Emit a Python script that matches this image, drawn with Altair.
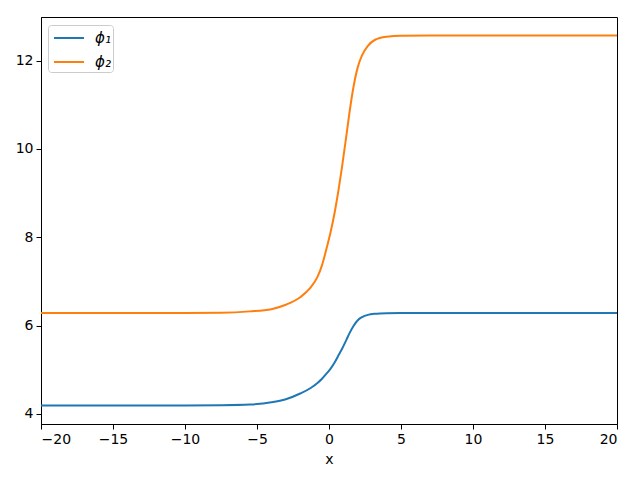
import altair as alt
import pandas as pd

x_vals = [-20, -10, -7.5, -5.5, -4, -3, -2, -1.3, -0.8, -0.5, -0.15, 0.1, 0.4, 0.7, 0.9,
          1.2, 1.4, 1.7, 2.0, 2.3, 2.7, 3.2, 4, 5, 7, 10, 20]
phi1 = [4.189, 4.19, 4.195, 4.21, 4.26, 4.33, 4.46, 4.58, 4.70, 4.79, 4.92, 5.02, 5.17, 5.35, 5.47,
        5.67, 5.81, 5.99, 6.12, 6.19, 6.24, 6.265, 6.278, 6.282, 6.283, 6.283, 6.283]
phi2 = [6.283, 6.285, 6.29, 6.32, 6.37, 6.47, 6.64, 6.85, 7.10, 7.35, 7.77, 8.10, 8.57, 9.15, 9.58,
        10.28, 10.77, 11.40, 11.85, 12.12, 12.33, 12.47, 12.54, 12.563, 12.566, 12.566, 12.566]
series_names = ["ϕ₁", "ϕ₂"]
colors = ["#1f77b4", "#ff7f0e"]

rows = []
for name, ys in zip(series_names, [phi1, phi2]):
    for xv, yv in zip(x_vals, ys):
        rows.append({"x": xv, "y": yv, "series": name})
df = pd.DataFrame(rows)

minus_expr = "replace(datum.label, '-', '−')"

chart = alt.Chart(df).mark_line(strokeWidth=2, interpolate="monotone").encode(
    x=alt.X("x:Q", title="x",
            scale=alt.Scale(domain=[-20, 20], nice=False, zero=False),
            axis=alt.Axis(values=[-20, -15, -10, -5, 0, 5, 10, 15, 20], grid=False,
                          labelExpr=minus_expr,
                          labelFontSize=14, titleFontSize=14, titleFontWeight="normal",
                          labelColor="black", titleColor="black", domainColor="black",
                          tickColor="black", tickSize=5, labelPadding=3, titlePadding=6)),
    y=alt.Y("y:Q", title=None,
            scale=alt.Scale(domain=[3.77, 12.985], nice=False, zero=False),
            axis=alt.Axis(values=[4, 6, 8, 10, 12], grid=False, labelFontSize=14,
                          labelColor="black", domainColor="black", tickColor="black",
                          tickSize=5, labelPadding=3)),
    color=alt.Color("series:N", scale=alt.Scale(domain=series_names, range=colors),
                    legend=alt.Legend(title=None, orient="none", legendX=7, legendY=8,
                                      symbolType="M-1.5,0H1.5", symbolStrokeWidth=2,
                                      symbolSize=400, symbolOffset=8,
                                      labelFontSize=15, labelFontStyle="italic",
                                      labelOffset=15,
                                      strokeColor="#cccccc", fillColor="white",
                                      padding=2, cornerRadius=3, rowPadding=5,
                                      labelColor="black")),
).properties(
    width=576, height=407,
    autosize=alt.AutoSizeParams(type="none"),
    padding={"left": 33, "top": 9, "right": 15, "bottom": 54},
).configure(
    font="DejaVu Sans"
).configure_view(
    stroke="black", strokeWidth=1
)

chart.save("out.html", embed_options={"renderer": "svg", "actions": False})
